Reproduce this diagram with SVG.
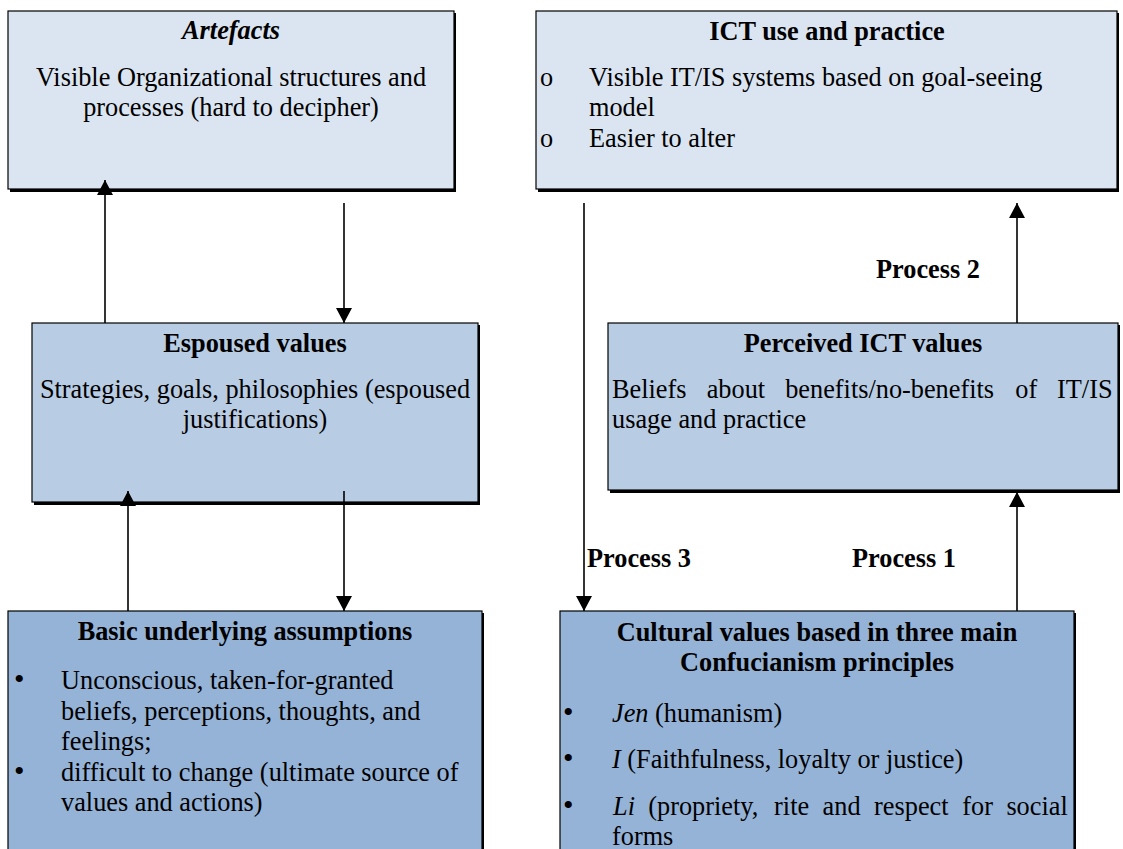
<svg xmlns="http://www.w3.org/2000/svg" width="1123" height="849" viewBox="0 0 1123 849">
<style>
text{font-family:'Liberation Serif','DejaVu Serif',serif;font-size:26.3px;fill:#000}
.t{font-weight:bold;text-anchor:middle}
.c{text-anchor:middle}
.b{font-weight:bold}
.bul{font-size:30px}
.box{stroke:#000;stroke-width:1.2}
.sh{fill:#000}
.l1{fill:#dbe5f1}
.l2{fill:#b8cce4}
.l3{fill:#95b3d7}
.conn{stroke:#000;stroke-width:1.6;fill:none;marker-end:url(#ah)}
</style>
<defs>
<marker id="ah" markerUnits="userSpaceOnUse" markerWidth="16" markerHeight="16" viewBox="0 0 16 16" refX="15" refY="8" orient="auto">
<path d="M0,0 L15,8 L0,16 z" fill="#000"/>
</marker>
</defs>
<rect width="1123" height="849" fill="#fff"/>

<g id="artefacts">
<rect class="sh" x="10" y="13" width="446" height="179"/>
<rect class="box l1" x="8" y="11" width="446" height="178"/>
<text class="c" x="231" y="39" font-weight="bold" font-style="italic">Artefacts</text>
<text class="c" x="231" y="86">Visible Organizational structures and</text>
<text class="c" x="231" y="116">processes (hard to decipher)</text>
</g>

<g id="ict-use">
<rect class="sh" x="538" y="13" width="581" height="179"/>
<rect class="box l1" x="536" y="11" width="581" height="178"/>
<text class="t" x="827" y="40">ICT use and practice</text>
<text x="540" y="86">o</text>
<text x="589" y="86">Visible IT/IS systems based on goal-seeing</text>
<text x="589" y="116">model</text>
<text x="540" y="147">o</text>
<text x="589" y="147">Easier to alter</text>
</g>

<g id="espoused">
<rect class="sh" x="34" y="325" width="446" height="180"/>
<rect class="box l2" x="32" y="323" width="446" height="179"/>
<text class="t" x="255" y="352">Espoused values</text>
<text class="c" x="255" y="398">Strategies, goals, philosophies (espoused</text>
<text class="c" x="255" y="428">justifications)</text>
</g>

<g id="perceived">
<rect class="sh" x="610" y="325" width="510" height="168"/>
<rect class="box l2" x="608" y="323" width="510" height="167"/>
<text class="t" x="863" y="352">Perceived ICT values</text>
<text y="398"><tspan x="612">Beliefs</tspan><tspan x="706.7">about</tspan><tspan x="785.2">benefits/no-benefits</tspan><tspan x="1015.3">of</tspan><tspan x="1057">IT/IS</tspan></text>
<text x="612" y="428">usage and practice</text>
</g>

<g id="basic">
<rect class="sh" x="10" y="613" width="474" height="250"/>
<rect class="box l3" x="8" y="611" width="474" height="250"/>
<text class="t" x="245" y="640">Basic underlying assumptions</text>
<text class="bul" x="14" y="689">•</text>
<text x="61" y="689">Unconscious, taken-for-granted</text>
<text x="61" y="719.5">beliefs, perceptions, thoughts, and</text>
<text x="61" y="750">feelings;</text>
<text class="bul" x="14" y="780.5">•</text>
<text x="61" y="780.5">difficult to change (ultimate source of</text>
<text x="61" y="811">values and actions)</text>
</g>

<g id="cultural">
<rect class="sh" x="562" y="613" width="514" height="250"/>
<rect class="box l3" x="560" y="611" width="514" height="250"/>
<text class="t" x="817" y="641">Cultural values based in three main</text>
<text class="t" x="817" y="671">Confucianism principles</text>
<text class="bul" x="563" y="722">•</text>
<text x="612" y="722"><tspan font-style="italic">Jen</tspan> (humanism)</text>
<text class="bul" x="563" y="768">•</text>
<text x="612" y="768"><tspan font-style="italic">I</tspan> (Faithfulness, loyalty or justice)</text>
<text class="bul" x="563" y="815">•</text>
<text y="815"><tspan x="613" font-style="italic">Li</tspan><tspan x="648.3">(propriety,</tspan><tspan x="774.1">rite</tspan><tspan x="822.6">and</tspan><tspan x="874.1">respect</tspan><tspan x="962.3">for</tspan><tspan x="1006.4">social</tspan></text>
<text x="612" y="845">forms</text>
</g>

<g id="connectors">
<line class="conn" x1="105" y1="323" x2="105" y2="180"/>
<line class="conn" x1="344" y1="203" x2="344" y2="323"/>
<line class="conn" x1="128" y1="611" x2="128" y2="491"/>
<line class="conn" x1="344" y1="491" x2="344" y2="611"/>
<line class="conn" x1="584" y1="203" x2="584" y2="611"/>
<line class="conn" x1="1017" y1="611" x2="1017" y2="492"/>
<line class="conn" x1="1017" y1="323" x2="1017" y2="203"/>
<text class="b" x="587" y="567">Process 3</text>
<text class="b" x="852" y="567">Process 1</text>
<text class="b" x="876" y="278">Process 2</text>
</g>
</svg>
